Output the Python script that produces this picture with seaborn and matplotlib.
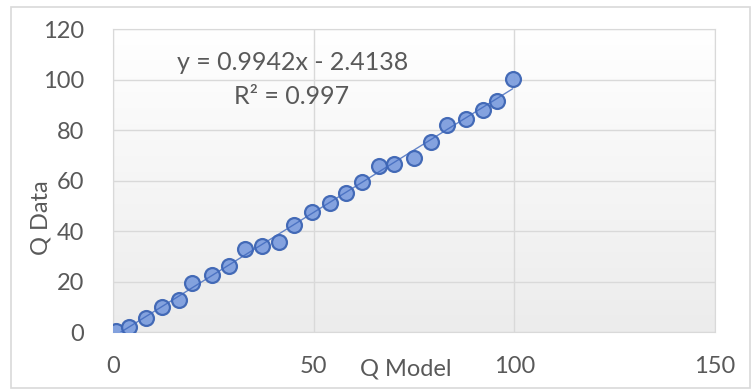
import numpy as np
import pandas as pd
import matplotlib
matplotlib.use("Agg")
import matplotlib.pyplot as plt
import seaborn as sns
from matplotlib.patches import Rectangle

# values
q_model = [0.7, 4.0, 8.2, 12.2, 16.5, 19.8, 24.6, 28.9, 32.9, 37.2, 41.4, 45.0,
           49.6, 54.0, 58.0, 62.0, 66.2, 70.0, 75.0, 79.2, 83.2, 88.0, 92.1, 95.8, 99.6]
q_data = [0.3, 2.0, 5.5, 9.9, 12.7, 19.5, 22.5, 26.0, 33.0, 34.0, 35.5, 42.3,
          47.6, 51.2, 54.9, 59.5, 65.8, 66.7, 69.1, 75.3, 81.8, 84.2, 87.8, 91.5, 100.1]
x_ticks = [0, 50, 100, 150]
y_ticks = [0, 20, 40, 60, 80, 100, 120]
eq_text = "y = 0.9942x - 2.4138"
r2_text = "R\u00b2 = 0.997"

df = pd.DataFrame({"Q Model": q_model, "Q Data": q_data})

sns.set_style("white")
plt.rcParams["font.family"] = ["Lato", "DejaVu Sans"]

text_col = "#595959"
fig = plt.figure(figsize=(7.53, 3.92), dpi=100)
ax = fig.add_axes([0.150, 0.153, 0.7995, 0.773])

# soft gradient in the plot area
grad = np.linspace(0, 1, 256).reshape(-1, 1)
ax.imshow(grad, cmap=matplotlib.colors.LinearSegmentedColormap.from_list(
    "g", ["#ececec", "#ffffff"]), extent=[0, 1, 0, 1], transform=ax.transAxes,
    aspect="auto", origin="lower", zorder=0)

# points, then the linear trendline on top (as Excel draws it)
sns.scatterplot(data=df, x="Q Model", y="Q Data", ax=ax, s=115,
                color="#7e9ede", edgecolor="#3d65b4", linewidth=1.6, alpha=0.95, zorder=3)
sns.regplot(data=df, x="Q Model", y="Q Data", scatter=False, ci=None, ax=ax,
            line_kws={"color": "#3f68bd", "lw": 1.0, "alpha": 0.8, "zorder": 4})

ax.set_xlim(0, 150)
ax.set_ylim(0, 120)
ax.set_xticks(x_ticks)
ax.set_yticks(y_ticks)
ax.grid(True, color="#d9d9d9", lw=1.0, zorder=1)
ax.set_axisbelow(True)
for sp in ax.spines.values():
    sp.set_color("#d9d9d9")
ax.tick_params(axis="both", length=0, labelsize=17, labelcolor=text_col)
ax.tick_params(axis="x", pad=17)
ax.tick_params(axis="y", pad=21)

ax.set_xlabel("")
ax.set_ylabel("")
fig.text(406 / 753, 1 - 369 / 392, "Q Model", ha="center", va="center",
         fontsize=17, color=text_col)
fig.text(41 / 753, 1 - 218 / 392, "Q Data", ha="center", va="center",
         rotation=90, fontsize=17, color=text_col)

fig.text(293 / 753, 1 - 62 / 392, eq_text, ha="center", va="center",
         fontsize=18, color=text_col)
fig.text(292 / 753, 1 - 96 / 392, r2_text, ha="center", va="center",
         fontsize=18, color=text_col)

# outer chart frame
fig.patches.append(Rectangle((11 / 753, 4 / 392), 739 / 753, 381 / 392,
                             transform=fig.transFigure, fill=False,
                             edgecolor="#d9d9d9", lw=1.2))

fig.savefig("out.png", dpi=100)
